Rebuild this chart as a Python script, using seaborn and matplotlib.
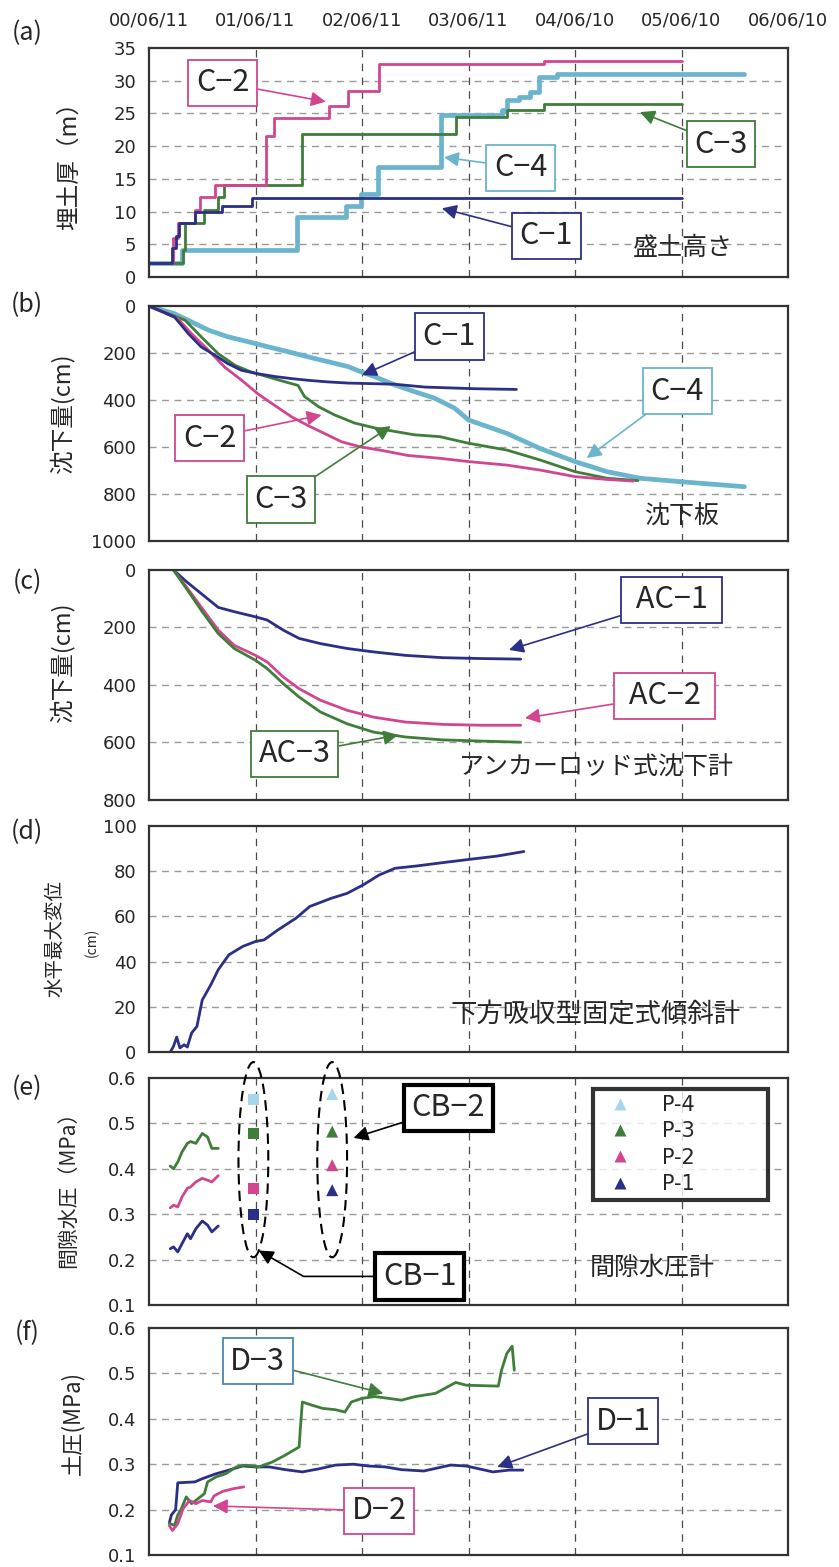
import matplotlib
matplotlib.use("Agg")
import matplotlib.pyplot as plt
import seaborn as sns
from matplotlib.patches import Ellipse
from matplotlib.lines import Line2D

# x values are years elapsed since 00/06/11
date_labels = ['00/06/11', '01/06/11', '02/06/11', '03/06/11', '04/06/10', '05/06/10', '06/06/10']
date_ticks = [0, 1, 2, 3, 4, 5, 6]

# (a) embankment height, step series (m)
a_c1_x = [0, 0.22, 0.25, 0.28, 0.43, 0.69, 0.97, 5.0]
a_c1_y = [2.2, 4.5, 6.2, 8.2, 10.0, 10.8, 12.0, 12.0]
a_c2_x = [0, 0.23, 0.27, 0.43, 0.48, 0.62, 1.10, 1.17, 1.69, 1.87, 2.16, 3.71, 5.0]
a_c2_y = [2.2, 6.0, 8.2, 10.2, 12.2, 14.0, 21.5, 24.3, 26.2, 28.4, 32.5, 33.0, 33.0]
a_c3_x = [0, 0.32, 0.34, 0.52, 0.65, 0.70, 1.44, 2.88, 3.36, 3.71, 5.0]
a_c3_y = [2.2, 4.1, 8.2, 10.2, 12.2, 14.0, 21.9, 24.5, 25.6, 26.5, 26.5]
a_c4_x = [0, 0.31, 1.39, 1.85, 1.99, 2.15, 2.74, 3.31, 3.36, 3.47, 3.58, 3.66, 3.83, 5.59]
a_c4_y = [2.2, 4.1, 9.2, 10.9, 12.7, 16.8, 24.8, 25.5, 27.0, 27.5, 28.2, 30.5, 31.0, 31.0]

# (b) settlement plates (cm)
b_c1_x = [0, 0.24, 0.37, 0.49, 0.62, 0.74, 0.87, 1.02, 1.18, 1.34, 1.49, 1.68, 1.87, 2.06, 2.31, 2.59, 3.06, 3.45]
b_c1_y = [0, 47, 118, 174, 210, 245, 274, 288, 300, 309, 316, 323, 328, 330, 333, 345, 352, 355]
b_c2_x = [0, 0.27, 0.40, 0.56, 0.71, 0.87, 1.02, 1.18, 1.34, 1.49, 1.65, 1.81, 1.99, 2.18, 2.43, 2.73, 3.0, 3.36,
          3.67, 4.0, 4.3, 4.55]
b_c2_y = [0, 54, 118, 189, 260, 316, 373, 423, 472, 508, 543, 578, 600, 614, 636, 648, 662, 677, 698, 726, 738, 745]
b_c3_x = [0, 0.34, 0.49, 0.65, 0.81, 0.96, 1.12, 1.28, 1.40, 1.46, 1.59, 1.74, 1.93, 2.12, 2.31, 2.49, 2.73, 3.0,
          3.36, 3.67, 4.0, 4.3, 4.59]
b_c3_y = [0, 61, 131, 203, 253, 281, 302, 323, 338, 385, 428, 463, 498, 519, 534, 548, 556, 584, 613, 655, 705, 733, 743]
b_c4_x = [0, 0.24, 0.40, 0.56, 0.74, 0.93, 1.12, 1.31, 1.49, 1.68, 1.87, 1.99, 2.12, 2.31, 2.49, 2.68, 2.87, 3.0,
          3.36, 3.67, 4.0, 4.3, 4.61, 5.0, 5.59]
b_c4_y = [0, 33, 68, 103, 131, 152, 174, 195, 216, 237, 258, 280, 301, 336, 364, 392, 435, 485, 542, 606, 662, 705,
          733, 748, 769]

# (c) anchor-rod settlement gauges (cm)
c_x = [0.23, 0.35, 0.50, 0.65, 0.80, 1.00, 1.11, 1.26, 1.41, 1.61, 1.86, 2.11, 2.41, 2.76, 3.12, 3.49]
c_ac1 = [0, 40, 85, 130, 145, 163, 174, 209, 238, 256, 273, 285, 297, 305, 308, 310]
c_ac2 = [0, 58, 134, 209, 262, 297, 320, 372, 413, 453, 488, 512, 529, 537, 540, 540]
c_ac3 = [0, 64, 145, 221, 273, 314, 343, 395, 442, 494, 535, 564, 581, 591, 595, 599]

# (d) maximum horizontal displacement (cm)
d_x = [0.20, 0.23, 0.26, 0.29, 0.33, 0.36, 0.40, 0.45, 0.50, 0.58, 0.65, 0.75, 0.88, 1.00, 1.08, 1.21, 1.38,
       1.51, 1.71, 1.86, 2.01, 2.16, 2.31, 2.51, 2.76, 3.02, 3.27, 3.52]
d_y = [0, 2.5, 6.6, 1.8, 3.2, 2.2, 8.4, 11.3, 23.0, 29.7, 36.4, 43.0, 46.7, 48.9, 49.6, 54.0, 59.2,
       64.4, 68.0, 70.2, 73.9, 78.3, 81.3, 82.3, 83.8, 85.3, 86.7, 88.7]

# (e) pore water pressure (MPa)
e_x = [0.20, 0.23, 0.27, 0.31, 0.36, 0.39, 0.44, 0.50, 0.55, 0.59, 0.65]
e_p1 = [0.224, 0.228, 0.217, 0.235, 0.257, 0.246, 0.268, 0.285, 0.276, 0.261, 0.274]
e_p2 = [0.314, 0.320, 0.316, 0.338, 0.357, 0.360, 0.371, 0.379, 0.375, 0.371, 0.385]
e_p3 = [0.406, 0.400, 0.415, 0.437, 0.456, 0.460, 0.456, 0.478, 0.470, 0.445, 0.445]
p_names = ['P-4', 'P-3', 'P-2', 'P-1']
cb1_x = 0.98
cb1_vals = [0.553, 0.478, 0.357, 0.300]
cb2_x = 1.72
cb2_vals = [0.565, 0.482, 0.408, 0.353]

# (f) earth pressure (MPa)
f_d1_x = [0.19, 0.21, 0.25, 0.27, 0.43, 0.50, 0.63, 0.75, 0.88, 1.00, 1.13, 1.28, 1.44, 1.60, 1.75, 1.92, 2.06,
          2.22, 2.37, 2.58, 2.83, 2.98, 3.23, 3.38, 3.51]
f_d1_y = [0.170, 0.188, 0.200, 0.259, 0.261, 0.268, 0.279, 0.287, 0.296, 0.294, 0.294, 0.288, 0.283, 0.290,
          0.298, 0.300, 0.296, 0.294, 0.288, 0.285, 0.298, 0.296, 0.283, 0.287, 0.287]
f_d2_x = [0.19, 0.22, 0.27, 0.32, 0.38, 0.44, 0.50, 0.58, 0.61, 0.69, 0.79, 0.89]
f_d2_y = [0.165, 0.154, 0.169, 0.202, 0.220, 0.213, 0.220, 0.217, 0.230, 0.240, 0.246, 0.250]
f_d3_x = [0.19, 0.24, 0.27, 0.30, 0.35, 0.40, 0.46, 0.52, 0.55, 0.63, 0.72, 0.82, 0.91, 1.03, 1.16, 1.28, 1.41,
          1.42, 1.44, 1.53, 1.63, 1.75, 1.84, 1.90, 2.00, 2.12, 2.25, 2.37, 2.50, 2.69, 2.88, 2.98, 3.28, 3.31,
          3.36, 3.41, 3.43]
f_d3_y = [0.170, 0.165, 0.188, 0.200, 0.228, 0.213, 0.224, 0.235, 0.261, 0.272, 0.279, 0.294, 0.298, 0.294,
          0.305, 0.320, 0.338, 0.375, 0.437, 0.430, 0.423, 0.420, 0.415, 0.437, 0.445, 0.449, 0.445, 0.441,
          0.449, 0.456, 0.480, 0.474, 0.472, 0.507, 0.544, 0.560, 0.507]

NAVY = '#2c2f86'
MAGENTA = '#d2468f'
GREEN = '#3f7d3a'
CYAN = '#6bb4cd'
LIGHT = '#a6d6ea'
STEEL = '#4d86b0'
p_colors = [LIGHT, GREEN, MAGENTA, NAVY]

sns.set_style('white')
plt.rcParams['font.family'] = ['Noto Sans CJK JP', 'DejaVu Sans']
plt.rcParams['axes.unicode_minus'] = False
NUM_FONT = 'DejaVu Sans'

fig = plt.figure(figsize=(8.39, 15.67), dpi=100)
H = 1567.0
W = 839.0
left_px, right_px = 149, 788
panels_px = [(48, 277), (306, 541), (570, 800), (826, 1052), (1078, 1305), (1328, 1555)]
axes = []
for top, bot in panels_px:
    ax = fig.add_axes([left_px / W, 1 - bot / H, (right_px - left_px) / W, (bot - top) / H])
    axes.append(ax)
ax_a, ax_b, ax_c, ax_d, ax_e, ax_f = axes


def style_axis(ax, ylim, yticks, ylabels):
    ax.set_xlim(0, 6)
    ax.set_ylim(*ylim)
    ax.set_xticks(date_ticks)
    ax.set_yticks(yticks)
    ax.set_yticklabels(ylabels, family=NUM_FONT)
    ax.tick_params(axis='both', length=0, labelsize=13, pad=9)
    ax.tick_params(axis='x', labelbottom=False)
    ax.grid(False)
    for t in yticks:
        if t not in ylim:
            ax.axhline(t, color='#9a9a9a', lw=1.0, ls=(0, (5, 4)), zorder=0)
    for t in date_ticks[1:-1]:
        ax.axvline(t, color='#4a4a4a', lw=0.9, ls=(0, (6, 5)), zorder=0)
    for sp in ax.spines.values():
        sp.set_color('#333333')
        sp.set_linewidth(1.6)
        sp.set_visible(True)
    ax.set_xlabel('')
    ax.set_ylabel('')


def boxed(ax, text, tip, center, color, size=22, lw=1.3, arrow_color=None, conn='arc3', pad=0.25):
    ax.annotate(text, xy=tip, xytext=center, ha='center', va='center', fontsize=size,
                family=['Noto Sans CJK JP', 'DejaVu Sans'],
                bbox=dict(boxstyle=f'square,pad={pad}', fc='white', ec=color, lw=lw),
                arrowprops=dict(arrowstyle='-|>', color=arrow_color or color, lw=1.2,
                                mutation_scale=22, shrinkA=0, shrinkB=0, connectionstyle=conn),
                zorder=6)


def line(ax, x, y, color, lw=2.0, **kw):
    sns.lineplot(x=x, y=y, ax=ax, color=color, lw=lw, estimator=None, sort=False, **kw)


# ---- (a)
line(ax_a, a_c4_x, a_c4_y, CYAN, lw=3.4, drawstyle='steps-post')
line(ax_a, a_c3_x, a_c3_y, GREEN, drawstyle='steps-post')
line(ax_a, a_c2_x, a_c2_y, MAGENTA, drawstyle='steps-post')
line(ax_a, a_c1_x, a_c1_y, NAVY, drawstyle='steps-post')
style_axis(ax_a, (0, 35), list(range(0, 36, 5)), [str(v) for v in range(0, 36, 5)])
ax_a.set_xticklabels(date_labels, family=NUM_FONT)
ax_a.tick_params(axis='x', labeltop=True, labelbottom=False, labelsize=13, pad=13)
boxed(ax_a, 'C−2', (1.66, 26.8), (0.69, 29.7), MAGENTA)
boxed(ax_a, 'C−4', (2.77, 18.3), (3.49, 16.7), CYAN)
boxed(ax_a, 'C−3', (4.61, 25.2), (5.37, 20.3), GREEN)
boxed(ax_a, 'C−1', (2.75, 10.5), (3.73, 6.3), NAVY)
ax_a.text(5.01, 4.4, '盛土高さ', ha='center', va='center', fontsize=18)

# ---- (b)
line(ax_b, b_c4_x, b_c4_y, CYAN, lw=3.4)
line(ax_b, b_c3_x, b_c3_y, GREEN)
line(ax_b, b_c2_x, b_c2_y, MAGENTA)
line(ax_b, b_c1_x, b_c1_y, NAVY)
style_axis(ax_b, (1000, 0), list(range(0, 1001, 200)), [str(v) for v in range(0, 1001, 200)])
boxed(ax_b, 'C−1', (2.0, 294), (2.82, 130), NAVY)
boxed(ax_b, 'C−2', (1.62, 464), (0.57, 562), MAGENTA)
boxed(ax_b, 'C−3', (2.27, 511), (1.24, 823), GREEN)
boxed(ax_b, 'C−4', (4.11, 647), (4.96, 362), CYAN)
ax_b.text(5.01, 898, '沈下板', ha='center', va='center', fontsize=18)

# ---- (c)
line(ax_c, c_x, c_ac1, NAVY)
line(ax_c, c_x, c_ac2, MAGENTA)
line(ax_c, c_x, c_ac3, GREEN)
style_axis(ax_c, (800, 0), list(range(0, 801, 200)), [str(v) for v in range(0, 801, 200)])
boxed(ax_c, ' AC−1 ', (3.38, 278), (4.91, 104), NAVY)
boxed(ax_c, ' AC−2 ', (3.53, 515), (4.84, 438), MAGENTA)
boxed(ax_c, 'AC−3', (2.34, 574), (1.37, 640), GREEN)
ax_c.text(4.2, 689, 'アンカーロッド式沈下計', ha='center', va='center', fontsize=18)

# ---- (d)
line(ax_d, d_x, d_y, NAVY)
style_axis(ax_d, (0, 100), list(range(0, 101, 20)), [str(v) for v in range(0, 101, 20)])
ax_d.text(4.19, 16.4, '下方吸収型固定式傾斜計', ha='center', va='center', fontsize=19)

# ---- (e)
line(ax_e, e_x, e_p3, GREEN)
line(ax_e, e_x, e_p2, MAGENTA)
line(ax_e, e_x, e_p1, NAVY)
sns.scatterplot(x=[cb1_x] * 4, y=cb1_vals, hue=p_names, palette=p_colors, hue_order=p_names,
                marker='s', s=60, edgecolor='none', legend=False, ax=ax_e, zorder=4)
sns.scatterplot(x=[cb2_x] * 4, y=cb2_vals, hue=p_names, palette=p_colors, hue_order=p_names,
                marker='^', s=75, edgecolor='none', legend=False, ax=ax_e, zorder=4)
style_axis(ax_e, (0.1, 0.6), [0.1, 0.2, 0.3, 0.4, 0.5, 0.6], ['0.1', '0.2', '0.3', '0.4', '0.5', '0.6'])
for cx in (cb1_x, cb2_x):
    ax_e.add_patch(Ellipse((cx, 0.42), 0.28, 0.43, fill=False, ec='black', lw=1.5,
                           ls=(0, (5, 3)), clip_on=False, zorder=5))
handles = [Line2D([], [], ls='', marker='^', markersize=9, color=c, mec='none') for c in p_colors]
leg = ax_e.legend(handles, p_names, loc='upper left', bbox_to_anchor=(0.695, 0.952, 0.274, 0.0),
                  mode='expand', frameon=True, fancybox=False, borderpad=0.3,
                  labelspacing=0.3, handletextpad=1.0, borderaxespad=0, prop={'family': NUM_FONT, 'size': 15})
leg.get_frame().set_edgecolor('black')
leg.get_frame().set_linewidth(3)
boxed(ax_e, 'CB−2', (1.92, 0.468), (2.81, 0.534), 'black', lw=3, arrow_color='black')
boxed(ax_e, 'CB−1', (1.03, 0.22), (2.54, 0.163), 'black', lw=3, arrow_color='black',
      conn='angle,angleA=0,angleB=-30,rad=0')
ax_e.text(4.73, 0.181, '間隙水圧計', ha='center', va='center', fontsize=18)

# ---- (f)
line(ax_f, f_d1_x, f_d1_y, NAVY)
line(ax_f, f_d3_x, f_d3_y, GREEN)
line(ax_f, f_d2_x, f_d2_y, MAGENTA)
style_axis(ax_f, (0.1, 0.6), [0.1, 0.2, 0.3, 0.4, 0.5, 0.6], ['0.1', '0.2', '0.3', '0.4', '0.5', '0.6'])
boxed(ax_f, 'D−3', (2.2, 0.456), (1.02, 0.527), STEEL, arrow_color=GREEN)
boxed(ax_f, 'D−1', (3.27, 0.294), (4.45, 0.395), NAVY)
boxed(ax_f, 'D−2', (0.6, 0.208), (2.16, 0.197), MAGENTA)

# y labels (axes-fraction positions)
ylabels = [
    (ax_a, '埋土厚（m）', -0.124, 0.51, 17),
    (ax_b, '沈下量(cm)', -0.136, 0.545, 17),
    (ax_c, '沈下量(cm)', -0.136, 0.60, 17),
    (ax_d, '水平最大変位', -0.147, 0.50, 14),
    (ax_e, '間隙水圧（MPa）', -0.127, 0.53, 15),
    (ax_f, '土圧(MPa)', -0.12, 0.58, 16),
]
for ax, txt, xx, yy, fs in ylabels:
    ax.text(xx, yy, txt, transform=ax.transAxes, rotation=90, ha='center', va='center', fontsize=fs)
ax_d.text(-0.089, 0.487, '(cm)', transform=ax_d.transAxes, rotation=90, ha='center', va='center', fontsize=10)

# panel letters
for letter, ypx in zip('abcdef', [33, 305, 582, 832, 1088, 1333]):
    fig.text(27 / W, 1 - ypx / H, f'({letter})', ha='center', va='center', fontsize=18)

fig.savefig('out.png', dpi=100)
